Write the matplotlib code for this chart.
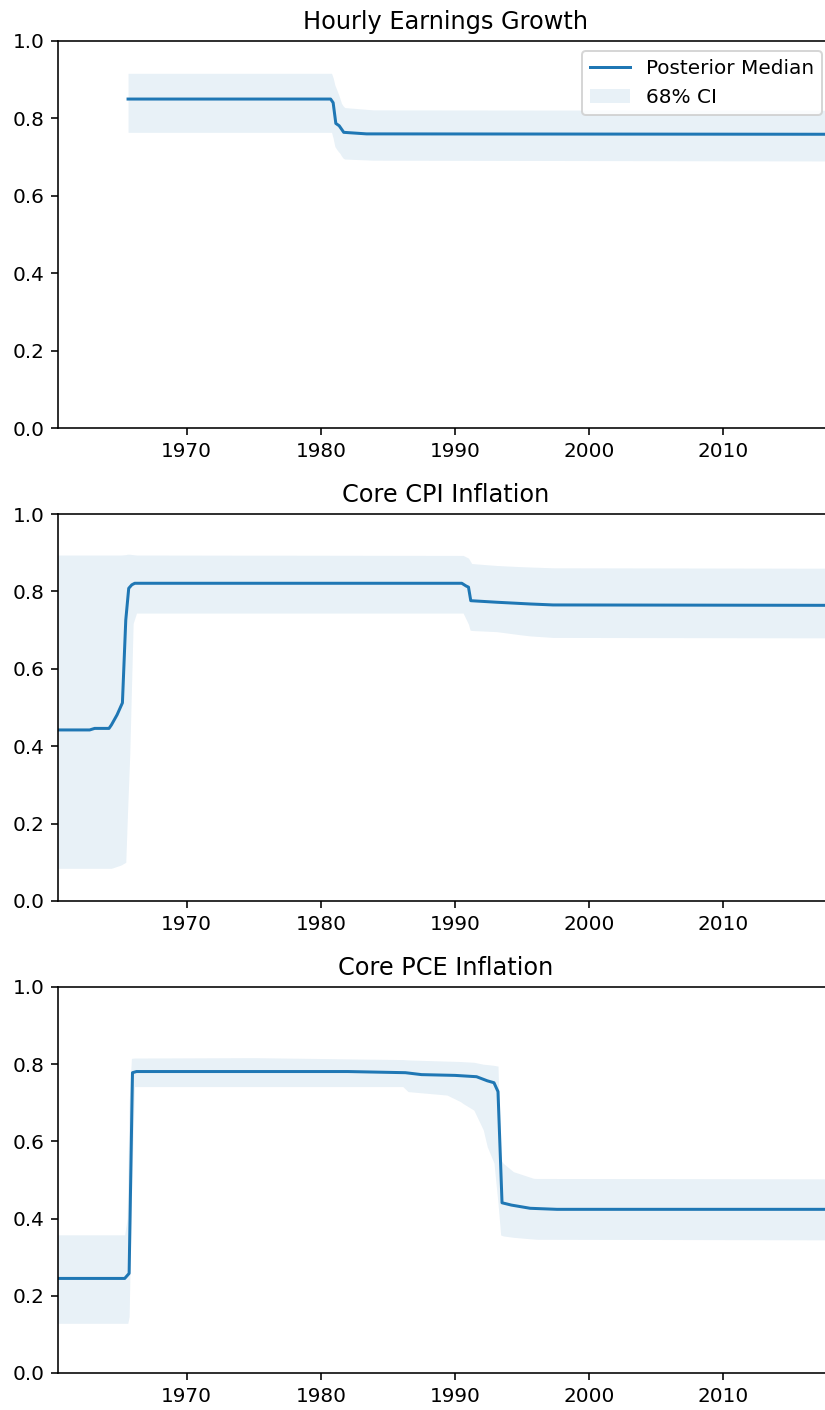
import matplotlib
matplotlib.use("Agg")
import matplotlib.pyplot as plt

# --- Hourly Earnings Growth ---
heg_med_years = [1965.62, 1980.72, 1980.91, 1981.11, 1981.36, 1981.7, 1983.4, 2017.75]
heg_med = [0.850, 0.850, 0.8406, 0.787, 0.781, 0.764, 0.760, 0.759]
heg_band_years = [1965.62, 1980.79, 1980.91, 1981.04, 1981.28, 1981.41, 1981.53,
                  1981.66, 1981.78, 1983.9, 2017.75]
heg_lower = [0.764, 0.764, 0.7486, 0.727, 0.715, 0.710, 0.703, 0.697, 0.695, 0.692, 0.690]
heg_upper = [0.9165, 0.9165, 0.905, 0.886, 0.865, 0.852, 0.839, 0.832, 0.828, 0.822, 0.821]

# --- Core CPI Inflation ---
cpi_med_years = [1960.25, 1962.76, 1963.13, 1964.2, 1964.38, 1964.8, 1965.2, 1965.45,
                 1965.67, 1965.9, 1966.12, 1990.5, 1990.82, 1991.0, 1991.17, 1993.1,
                 1995.6, 1997.3, 2017.75]
cpi_med = [0.442, 0.442, 0.446, 0.446, 0.455, 0.481, 0.512, 0.726, 0.808, 0.817, 0.821,
           0.821, 0.814, 0.811, 0.776, 0.772, 0.7675, 0.765, 0.764]
cpi_band_years = [1960.25, 1964.38, 1965.1, 1965.45, 1965.56, 1965.75, 1966.0, 1966.25,
                  1990.5, 1990.6, 1991.0, 1991.12, 1991.24, 1993.1, 1994.85, 1995.6,
                  1997.3, 2017.75]
cpi_lower = [0.0845, 0.0845, 0.093, 0.100, 0.209, 0.382, 0.717, 0.744, 0.744, 0.744,
             0.715, 0.700, 0.699, 0.696, 0.688, 0.685, 0.681, 0.680]
cpi_upper = [0.894, 0.894, 0.894, 0.895, 0.896, 0.896, 0.895, 0.894, 0.893, 0.893,
             0.886, 0.879, 0.872, 0.867, 0.864, 0.863, 0.861, 0.860]

# --- Core PCE Inflation ---
pce_med_years = [1960.25, 1965.37, 1965.7, 1965.95, 1966.25, 1982.0, 1986.3, 1987.5,
                 1990.0, 1991.6, 1992.4, 1992.9, 1993.2, 1993.5, 1994.2, 1995.6,
                 1997.6, 2017.75]
pce_med = [0.245, 0.245, 0.258, 0.778, 0.781, 0.781, 0.778, 0.773, 0.771, 0.7676, 0.757,
           0.752, 0.729, 0.441, 0.435, 0.4267, 0.424, 0.424]
pce_band_years = [1960.25, 1965.37, 1965.55, 1965.6, 1965.7, 1965.87, 1966.1, 1975.0,
                  1986.1, 1986.5, 1989.4, 1990.4, 1990.6, 1991.4, 1992.1, 1992.4,
                  1992.9, 1993.2, 1993.4, 1993.6, 1994.35, 1995.85, 1996.1, 2017.75]
pce_lower = [0.1287, 0.1287, 0.1287, 0.1287, 0.146, 0.45, 0.742, 0.742, 0.742, 0.729,
             0.720, 0.703, 0.698, 0.681, 0.63, 0.586, 0.544, 0.44, 0.3575, 0.355,
             0.3515, 0.347, 0.3464, 0.345]
pce_upper = [0.358, 0.358, 0.40, 0.50, 0.70, 0.815, 0.816, 0.817, 0.812, 0.811, 0.808,
             0.807, 0.8065, 0.805, 0.80, 0.799, 0.797, 0.795, 0.552, 0.543, 0.5215,
             0.5044, 0.504, 0.503]

titles = ["Hourly Earnings Growth", "Core CPI Inflation", "Core PCE Inflation"]
panels = [
    (heg_med_years, heg_med, heg_band_years, heg_lower, heg_upper),
    (cpi_med_years, cpi_med, cpi_band_years, cpi_lower, cpi_upper),
    (pce_med_years, pce_med, pce_band_years, pce_lower, pce_upper),
]

W, H, DPI = 825, 1410, 144
fig = plt.figure(figsize=(W / DPI, H / DPI), dpi=DPI)

left_px, right_px = 58.3, 832.0
# (top, bottom) pixel rows of each axes box
rows = [(41, 428), (514, 901), (987, 1373)]

for i, ((my, mv, by, lo, up), title) in enumerate(zip(panels, titles)):
    top, bot = rows[i]
    ax = fig.add_axes([left_px / W, 1 - bot / H,
                       (right_px - left_px) / W, (bot - top) / H])
    ax.plot(my, mv, color="C0", lw=1.5, label="Posterior Median")
    ax.fill_between(by, lo, up, color="C0", alpha=0.1, lw=0, label="68% CI")
    ax.set_xlim(1960.42, 2018.1)
    ax.set_ylim(0, 1)
    ax.set_xticks([1970, 1980, 1990, 2000, 2010])
    ax.set_yticks([0.0, 0.2, 0.4, 0.6, 0.8, 1.0])
    ax.spines["right"].set_visible(False)
    ax.set_title(title)
    if i == 0:
        ax.legend(loc="upper right")

fig.savefig("out.png", dpi=DPI)
